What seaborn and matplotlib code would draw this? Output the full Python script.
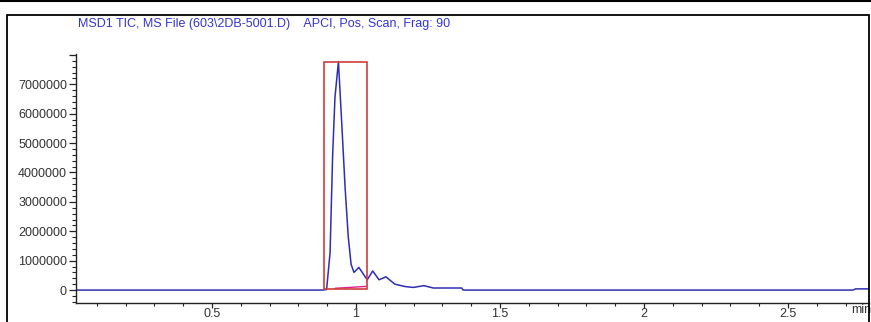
import matplotlib
matplotlib.use("Agg")
import matplotlib.pyplot as plt
from matplotlib.patches import Rectangle
from matplotlib.ticker import MultipleLocator, FixedLocator
import seaborn as sns
import pandas as pd

# ---- data ----
time_min = [0.028, 0.885, 0.898, 0.910, 0.919, 0.927, 0.939, 0.950, 0.962, 0.973,
            0.983, 0.993, 1.010, 1.039, 1.058, 1.080, 1.104, 1.135, 1.170, 1.199,
            1.236, 1.268, 1.367, 1.372, 2.725, 2.735, 2.781]
tic = [0, 0, 20000, 1270000, 4600000, 6550000, 7770000, 5780000, 3520000, 1830000,
       880000, 600000, 770000, 350000, 650000, 350000, 450000, 200000, 120000, 90000,
       150000, 70000, 70000, 0, 0, 40000, 40000]

peak_start = 0.889
peak_end = 1.039
peak_top = 7770000
peak_bottom = 20000
baseline_t = [0.927, 1.037]
baseline_v = [60000, 125000]

ytick_vals = [0, 1000000, 2000000, 3000000, 4000000, 5000000, 6000000, 7000000, 8000000]
ytick_labels = ["0", "1000000", "2000000", "3000000", "4000000", "5000000", "6000000", "7000000", ""]
xtick_vals = [0.5, 1.0, 1.5, 2.0, 2.5]
xtick_labels = ["0.5", "1", "1.5", "2", "2.5"]
title = "MSD1 TIC, MS File (603\\2DB-5001.D)    APCI, Pos, Scan, Frag: 90"

# ---- style ----
sns.set_theme(style="white")
plt.rcParams['font.family'] = ['Liberation Sans', 'DejaVu Sans']

W, H = 871, 322
fig = plt.figure(figsize=(W / 100, H / 100), dpi=100)
ax = fig.add_axes([76 / W, (H - 303) / H, (869 - 76) / W, (303 - 54) / H])

df = pd.DataFrame({"t": time_min, "v": tic})
sns.lineplot(data=df, x="t", y="v", ax=ax, color="#2e2eb4", linewidth=1.1,
             sort=False, estimator=None)

ax.add_patch(Rectangle((peak_start, peak_bottom), peak_end - peak_start,
                       peak_top - peak_bottom, fill=False, edgecolor="#d03c3c",
                       linewidth=1.2, zorder=3))
sns.lineplot(x=baseline_t, y=baseline_v, ax=ax, color="#e0208c", linewidth=1.0,
             estimator=None)

ax.set_xlim(0.028, 2.781)
ax.set_ylim(-440000, 8030000)
ax.set_xlabel("")
ax.set_ylabel("")

ax.xaxis.set_major_locator(FixedLocator(xtick_vals))
ax.set_xticklabels(xtick_labels)
ax.xaxis.set_minor_locator(MultipleLocator(0.1))
ax.yaxis.set_major_locator(FixedLocator(ytick_vals))
ax.set_yticklabels(ytick_labels)
ax.yaxis.set_minor_locator(MultipleLocator(200000))

for s in ["top", "right"]:
    ax.spines[s].set_visible(False)
for s in ["left", "bottom"]:
    ax.spines[s].set_color("#222222")
    ax.spines[s].set_linewidth(1.0)

ax.tick_params(which="major", direction="out", length=5, width=0.9, color="#222222",
               labelsize=9, labelcolor="#333333", pad=1.5)
ax.tick_params(which="minor", direction="out", length=3, width=0.8, color="#222222")
ax.tick_params(axis="x", which="major", length=3.5, pad=0.3)
ax.tick_params(axis="x", which="minor", length=2.5)
ax.tick_params(axis="both", which="both", bottom=True, left=True)

ax.text(2.755, -0.005, "min", transform=ax.get_xaxis_transform(), ha="center", va="top",
        fontsize=9, color="#333333")

fig.text(78 / W, 1 - 24 / H, title, ha="left", va="center", fontsize=9, color="#3434d4")

# frame around the figure
fig.add_artist(Rectangle((7 / W, -0.05), (869 - 7) / W, (H - 15) / H + 0.05,
                         transform=fig.transFigure, fill=False, edgecolor="black",
                         linewidth=1.3))
fig.add_artist(plt.Line2D([0, 1], [1 - 0.5 / H, 1 - 0.5 / H], transform=fig.transFigure,
                          color="black", linewidth=1.5))

fig.savefig("out.png", dpi=100, facecolor="white")
